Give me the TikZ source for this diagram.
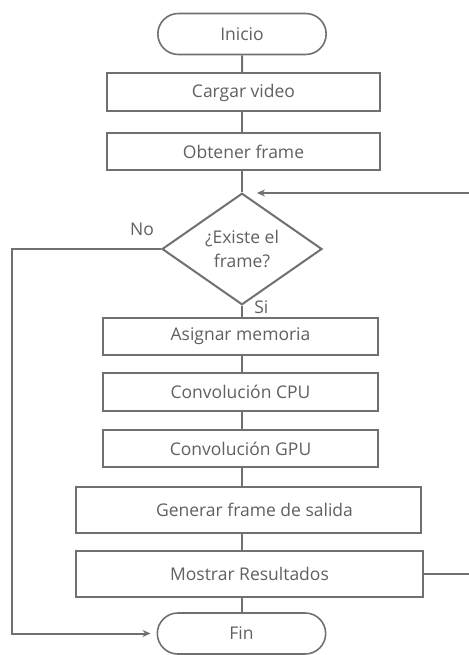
\documentclass[tikz,border=0pt]{standalone}
\usepackage{fontspec}
\setmainfont{Open Sans}
\usetikzlibrary{positioning}
\usetikzlibrary{arrows.meta}
\usetikzlibrary{shapes.geometric}
\usetikzlibrary{shapes.misc}

\definecolor{linegray}{HTML}{707070}
\definecolor{textgray}{HTML}{606060}

\tikzset{
  box/.style={draw=linegray, line width=2pt, rectangle, minimum height=38pt, text=textgray, font=\fontsize{17.5}{20}\selectfont},
  terminal/.style={draw=linegray, line width=1.6pt, rounded rectangle, minimum width=175pt, minimum height=41pt, text=textgray, font=\fontsize{17.5}{20}\selectfont},
  decision/.style={draw=linegray, line width=2pt, diamond, minimum width=160pt, minimum height=108pt, inner sep=0pt, align=center, text=textgray, font=\fontsize{17.5}{24}\selectfont},
  flow/.style={draw=linegray, line width=2pt},
  flowarrow/.style={flow, -{Stealth[length=8pt,width=7pt]}},
  lbl/.style={text=textgray, font=\fontsize{17.5}{20}\selectfont}
}

\begin{document}
\begin{tikzpicture}[x=1pt, y=-1pt]
  \useasboundingbox (0,0) rectangle (468,655);

  % nodes of the flow chart
  \node[terminal] (inicio) at (242,34) {Inicio};
  \node[box, minimum width=273pt] (cargar) at (243.5,92.5) {Cargar video};
  \node[box, minimum width=273pt, minimum height=37pt] (obtener) at (243.5,151.5) {Obtener frame};
  \node[decision] (existe) at (242,249) {¿Existe el\\frame?};
  \node[box, minimum width=275pt, minimum height=37pt] (asignar) at (240.5,336.5) {Asignar memoria};
  \node[box, minimum width=275pt] (cpu) at (240.5,392) {Convolución CPU};
  \node[box, minimum width=275pt, minimum height=37pt] (gpu) at (240.5,448.5) {Convolución GPU};
  \node[box, minimum width=345pt, minimum height=46pt] (generar) at (248.5,510) {\hspace{12pt}Generar frame de salida};
  \node[box, minimum width=347pt, minimum height=46pt] (mostrar) at (249.5,574) {Mostrar Resultados};
  \node[terminal] (fin) at (241.5,633.5) {Fin};

  % helper points for the loops
  \coordinate (back) at (257,193);
  \coordinate (rightx) at (472,0);
  \coordinate (leftx) at (12,0);

  % straight connectors
  \draw[flow] (inicio) -- (inicio |- cargar.north);
  \draw[flow] (inicio |- cargar.south) -- (inicio |- obtener.north);
  \draw[flow] (inicio |- obtener.south) -- (existe.north);
  \draw[flow] (existe.south) -- (existe.south |- asignar.north)
    node[lbl, pos=0.15, right, xshift=8pt] {Si};
  \draw[flow] (existe.south |- asignar.south) -- (existe.south |- cpu.north);
  \draw[flow] (existe.south |- cpu.south) -- (existe.south |- gpu.north);
  \draw[flow] (existe.south |- gpu.south) -- (existe.south |- generar.north);
  \draw[flow] (existe.south |- generar.south) -- (existe.south |- mostrar.north);
  \draw[flow] (existe.south |- mostrar.south) -- (existe.south |- fin.north);

  % loop back and exit
  \draw[flowarrow] (mostrar.east) -- (rightx |- mostrar.east) |- (back);
  \draw[flowarrow, shorten >=6pt] (existe.west) -- (leftx |- existe.west) |- (fin.west);
  \node[lbl] (no) at (142,229) {No};
\end{tikzpicture}
\end{document}
